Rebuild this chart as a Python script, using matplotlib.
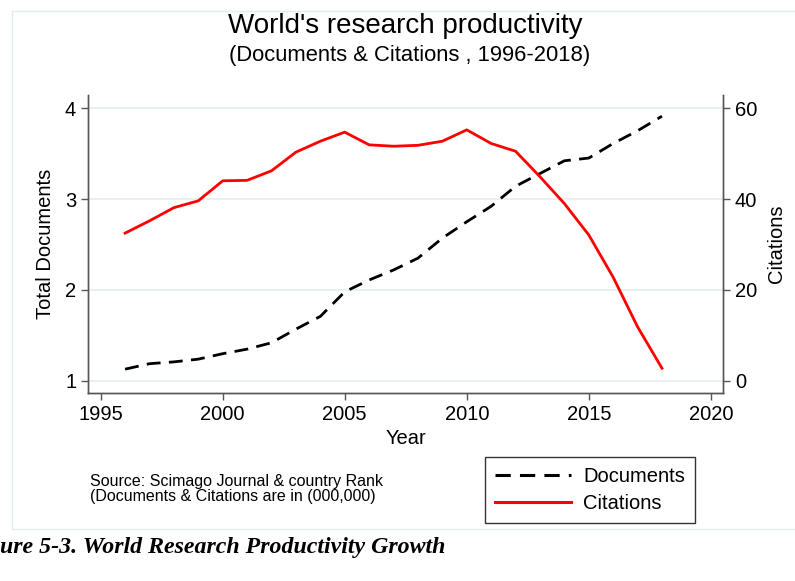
import matplotlib

matplotlib.use("Agg")
import matplotlib.pyplot as plt
from matplotlib.lines import Line2D
from matplotlib.patches import Rectangle

plt.rcParams["font.family"] = ["Liberation Sans", "DejaVu Sans"]

years = list(range(1996, 2019))
documents = [1.13, 1.19, 1.21, 1.24, 1.30, 1.35, 1.42, 1.57, 1.71, 1.98,
             2.11, 2.22, 2.35, 2.57, 2.75, 2.92, 3.14, 3.28, 3.42, 3.45,
             3.61, 3.75, 3.91]
citations = [32.5, 35.2, 38.1, 39.6, 44.0, 44.1, 46.2, 50.3, 52.7, 54.7,
             51.9, 51.6, 51.8, 52.7, 55.2, 52.2, 50.5, 44.9, 39.0, 32.1,
             22.8, 11.9, 2.8]

x_ticks = [1995, 2000, 2005, 2010, 2015, 2020]
left_ticks = [1, 2, 3, 4]
right_ticks = [0, 20, 40, 60]

axis_color = "#555555"
grid_color = "#e6eeee"

fig = plt.figure(figsize=(7.95, 5.81), dpi=100)

# faint outer graph-region border (Stata style)
fig.patches.append(Rectangle((12 / 795, 1 - 529 / 581), 1.2, (529 - 11) / 581,
                             transform=fig.transFigure, fill=False,
                             edgecolor="#e4ecec", linewidth=1.0))

ax = fig.add_axes([88 / 795, 1 - 393 / 581, (723 - 88) / 795, (393 - 95) / 581])
ax2 = ax.twinx()

ax.set_xlim(1994.48, 2020.5)
ax.set_ylim(0.868, 4.143)
ax2.set_ylim((0.868 - 1) * 20, (4.143 - 1) * 20)

for y in left_ticks:
    ax.axhline(y, color=grid_color, linewidth=1.2, zorder=0)

line_doc, = ax2.plot(years, [(d - 1) * 20 for d in documents], color="black",
                     linewidth=2.0, dashes=(5, 3), zorder=3)
line_cit, = ax2.plot(years, citations, color="red", linewidth=2.0, zorder=3)

for a in (ax, ax2):
    a.spines["top"].set_visible(False)
    for s in ("left", "right", "bottom"):
        a.spines[s].set_color(axis_color)
        a.spines[s].set_linewidth(1.0)
    a.tick_params(colors="black", length=5, width=1.0, labelsize=14.5,
                  color=axis_color)

ax.set_xticks(x_ticks)
ax.set_yticks(left_ticks)
ax2.set_yticks(right_ticks)

ax.set_xlabel("Year", fontsize=14.5, labelpad=4)
ax.set_ylabel("Total Documents", fontsize=14.5, labelpad=7)
ax2.set_ylabel("Citations", fontsize=14.5, labelpad=7)

fig.text(405 / 795, 1 - 26 / 581, "World's research productivity",
         ha="center", va="center", fontsize=20)
fig.text(410 / 795, 1 - 56 / 581, "(Documents & Citations , 1996-2018)",
         ha="center", va="center", fontsize=15.8)

fig.text(90 / 795, 1 - 489 / 581,
         "Source: Scimago Journal & country Rank\n(Documents & Citations are in (000,000)",
         ha="left", va="center", fontsize=11.5, linespacing=1.0)

handles = [
    Line2D([0], [0], color="black", linewidth=2.2, dashes=(5, 3), label="Documents"),
    Line2D([0], [0], color="red", linewidth=2.2, label="Citations"),
]
leg = fig.legend(handles=handles, loc="center", bbox_to_anchor=(590 / 795, 1 - 490 / 581),
                 fontsize=14.5, frameon=True, fancybox=False, edgecolor="black",
                 handlelength=3.8, handletextpad=0.6, borderpad=0.5,
                 labelspacing=0.4, borderaxespad=0)
leg.get_frame().set_linewidth(1.0)

fig.text(0.0, 1 - 548 / 581, "ure 5-3. World Research Productivity Growth",
         ha="left", va="center", fontsize=17.2, fontweight="bold", fontstyle="italic",
         family=["Liberation Serif", "DejaVu Serif"])

fig.savefig("out.png", dpi=100)
plt.close(fig)
